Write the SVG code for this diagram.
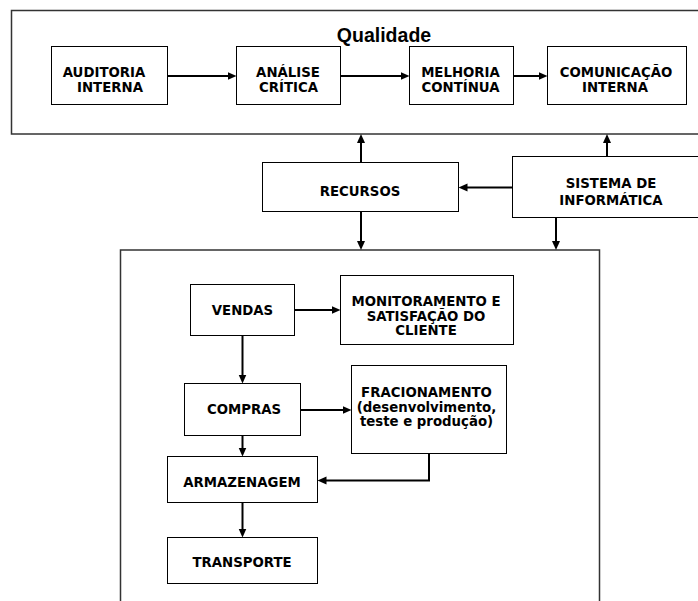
<svg xmlns="http://www.w3.org/2000/svg" width="698" height="601" viewBox="0 0 698 601">
<defs>
<style>
.box{fill:#fff;stroke:#000;stroke-width:1}
.frame{fill:#fff;stroke:#333;stroke-width:1.5}
.t{font-family:"DejaVu Sans",Verdana,sans-serif;font-weight:bold;font-size:13.3px;fill:#000;text-anchor:middle}
.title{font-family:"Liberation Sans",Arial,sans-serif;font-weight:bold;font-size:19.5px;fill:#000;text-anchor:middle}
.c{fill:none;stroke:#000;stroke-width:2;marker-end:url(#ah)}
</style>
<marker id="ah" markerUnits="userSpaceOnUse" markerWidth="10" markerHeight="10" refX="2" refY="4" orient="auto">
<path d="M0,0 L9,4 L0,8 z" fill="#000"/>
</marker>
</defs>
<rect width="698" height="601" fill="#fff"/>

<g id="qualidade">
<rect class="frame" x="11.5" y="10.5" width="690" height="123.5"/>
<text class="title" x="384" y="42">Qualidade</text>
</g>
<g id="sistemas-ops">
<rect class="frame" x="120.5" y="250" width="479" height="360"/>
</g>

<g id="auditoria">
<rect class="box" x="51.5" y="46.5" width="116" height="58"/>
<text class="t" x="104" y="77">AUDITORIA</text>
<text class="t" x="110" y="92">INTERNA</text>
</g>
<g id="analise">
<rect class="box" x="236.5" y="46.5" width="104" height="58"/>
<text class="t" x="288" y="77">ANÁLISE</text>
<text class="t" x="288.5" y="92">CRÍTICA</text>
</g>
<g id="melhoria">
<rect class="box" x="409.5" y="46.5" width="104" height="58"/>
<text class="t" x="460.5" y="77">MELHORIA</text>
<text class="t" x="460.5" y="92">CONTÍNUA</text>
</g>
<g id="comunicacao">
<rect class="box" x="547.5" y="46.5" width="139" height="58"/>
<text class="t" x="616" y="77">COMUNICAÇÃO</text>
<text class="t" x="615" y="92">INTERNA</text>
</g>
<g id="recursos">
<rect class="box" x="262.5" y="162.5" width="196" height="49"/>
<text class="t" x="360" y="196">RECURSOS</text>
</g>
<g id="sistema">
<rect class="box" x="512.5" y="156.5" width="190" height="61"/>
<text class="t" x="611" y="188">SISTEMA DE</text>
<text class="t" x="611" y="205">INFORMÁTICA</text>
</g>
<g id="vendas">
<rect class="box" x="190.5" y="284.5" width="104" height="51"/>
<text class="t" x="242.5" y="315">VENDAS</text>
</g>
<g id="monitoramento">
<rect class="box" x="340.5" y="275.5" width="173" height="69"/>
<text class="t" x="426" y="306">MONITORAMENTO E</text>
<text class="t" x="426" y="320.5">SATISFAÇÃO DO</text>
<text class="t" x="426" y="335">CLIENTE</text>
</g>
<g id="compras">
<rect class="box" x="184.5" y="383.5" width="116" height="52"/>
<text class="t" x="244" y="414">COMPRAS</text>
</g>
<g id="fracionamento">
<rect class="box" x="351.5" y="365.5" width="155" height="88"/>
<text class="t" x="426.5" y="396.5">FRACIONAMENTO</text>
<text class="t" x="426.5" y="411.5">(desenvolvimento,</text>
<text class="t" x="426.5" y="425.5">teste e produção)</text>
</g>
<g id="armazenagem">
<rect class="box" x="167.5" y="456.5" width="150" height="46"/>
<text class="t" x="242" y="487">ARMAZENAGEM</text>
</g>
<g id="transporte">
<rect class="box" x="167.5" y="537.5" width="150" height="46"/>
<text class="t" x="242" y="567">TRANSPORTE</text>
</g>

<g id="connectors">
<path class="c" d="M167.5,76 H229.5"/>
<path class="c" d="M340.5,76 H402.5"/>
<path class="c" d="M513.5,76 H540.5"/>
<path class="c" d="M361,162.5 V141"/>
<path class="c" d="M361,211.5 V243"/>
<path class="c" d="M512.5,187.5 H465.5"/>
<path class="c" d="M607,156.5 V141"/>
<path class="c" d="M556,217.5 V243"/>
<path class="c" d="M294.5,310 H333.5"/>
<path class="c" d="M242.5,335.5 V376.5"/>
<path class="c" d="M300.5,410 H344.5"/>
<path class="c" d="M242.5,435.5 V449.5"/>
<path class="c" d="M429,453.5 V480.5 H324.5"/>
<path class="c" d="M242.5,502.5 V530.5"/>
</g>
</svg>
